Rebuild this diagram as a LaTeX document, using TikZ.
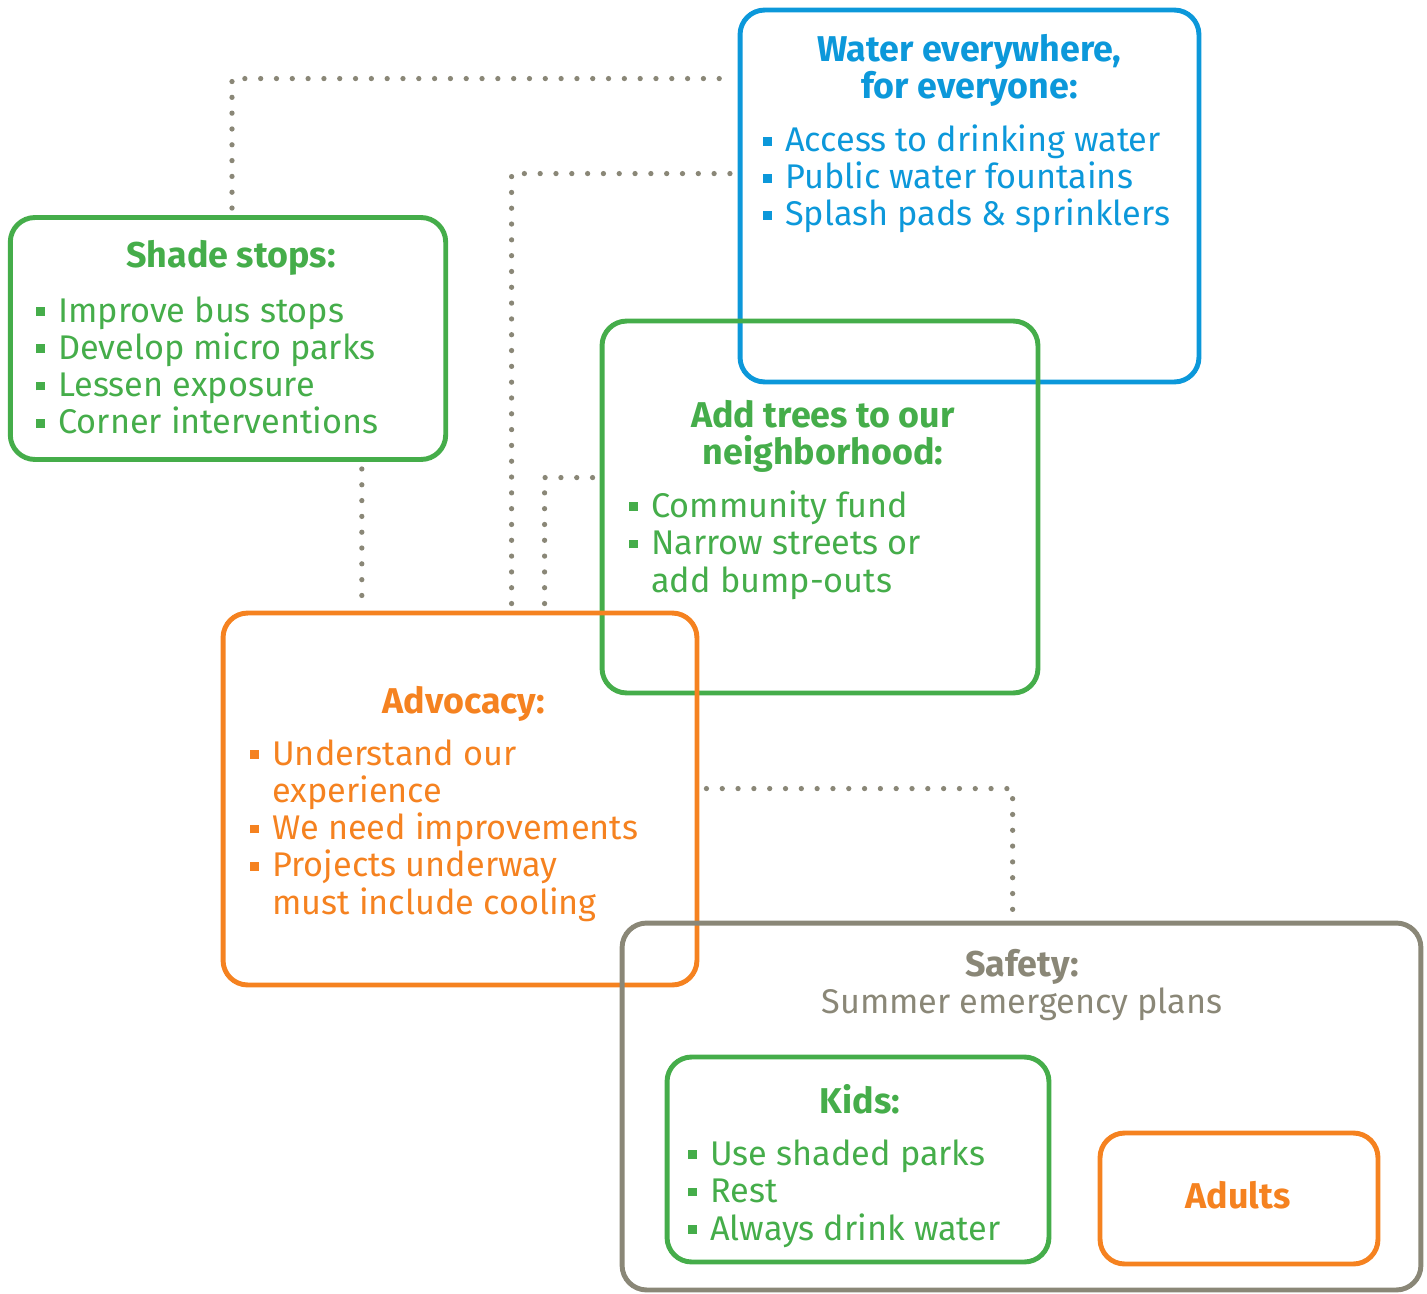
\documentclass[tikz,border=0pt]{standalone}
\usepackage{fontspec}
\setmainfont{Fira Sans}
\usetikzlibrary{calc}

\definecolor{leaf}{HTML}{45AD4A}
\definecolor{sky}{HTML}{0C98DA}
\definecolor{ember}{HTML}{F58220}
\definecolor{stone}{HTML}{8A8777}

\newcommand{\bul}{\makebox[12.5pt][l]{\rule[3.5pt]{5pt}{5pt}}}
\newcommand{\ind}{\hspace*{12.5pt}}

\tikzset{
  panel/.style={draw=#1, line width=2.8pt, rounded corners=14pt, inner sep=0pt},
  head/.style={text=#1, anchor=base, inner sep=0pt, font=\fontsize{20.4}{24}\selectfont\bfseries},
  item/.style={text=#1, anchor=base west, inner sep=0pt, font=\fontsize{19.5}{23}\selectfont},
  link/.style={draw=stone, line width=3pt, line cap=round, dash pattern=on 0pt off 9pt,
    shorten <=4pt, shorten >=4pt}
}

\begin{document}
\begin{tikzpicture}[x=0.02cm, y=-0.02cm]
  \useasboundingbox (0,0) rectangle (1427,1294);

  % frames
  \node[panel=leaf, minimum width=8.71cm, minimum height=4.84cm] (shade) at (228,338.5) {};
  \node[panel=sky, minimum width=9.18cm, minimum height=7.44cm] (water) at (969.5,196) {};
  \node[panel=leaf, minimum width=8.72cm, minimum height=7.44cm] (trees) at (820,507) {};
  \node[panel=ember, minimum width=9.48cm, minimum height=7.44cm] (advocacy) at (460,799) {};
  \node[panel=stone, minimum width=15.98cm, minimum height=7.34cm] (safety) at (1021.5,1106.5) {};
  \node[panel=leaf, minimum width=7.64cm, minimum height=4.1cm] (kids) at (858,1159.5) {};
  \node[panel=ember, minimum width=5.56cm, minimum height=2.62cm] (adults) at (1239,1198.5) {};

  % dotted connectors
  \draw[link] ($(shade.north)+(4,0)$) |- ($(water.north west)+(0,71)$);
  \draw[link] ($(advocacy.north west)+(291,0)$) |- ($(water.north west)+(0,166)$);
  \draw[link] ($(advocacy.north west)+(324,0)$) |- ($(trees.north west)+(0,159)$);
  \draw[link] ($(shade.south west)+(354,0)$) coordinate (s4) -- (s4 |- advocacy.north);
  \draw[link] ($(advocacy.north east)+(0,178)$) -| ($(safety.north west)+(393,0)$);

  % shade stops
  \node[head=leaf] (shade-t) at (231,268) {Shade stops:};
  \foreach \t [count=\i] in {Improve bus stops, Develop micro parks, Lessen exposure, Corner interventions}
    \node[item=leaf] (shade-\i) at (36,{284.7+37.3*\i}) {\bul\t};

  % water
  \node[head=sky] (water-t1) at (969.5,62) {Water everywhere,};
  \node[head=sky] (water-t2) at (969.5,99) {for everyone:};
  \foreach \t [count=\i] in {Access to drinking water, Public water fountains, Splash pads \& sprinklers}
    \node[item=sky] (water-\i) at (763,{115+37*\i}) {\bul\t};

  % trees
  \node[head=leaf] (trees-t1) at (823,427) {Add trees to our};
  \node[head=leaf] (trees-t2) at (823,464) {neighborhood:};
  \foreach \t [count=\i] in {\bul Community fund, \bul Narrow streets or, \ind add bump-outs}
    \node[item=leaf] (trees-\i) at (629,{479.5+37.5*\i}) {\t};

  % advocacy
  \node[head=ember] (advocacy-t) at (464,713) {Advocacy:};
  \foreach \t [count=\i] in {\bul Understand our, \ind experience, \bul We need improvements,
      \bul Projects underway, \ind must include cooling}
    \node[item=ember] (advocacy-\i) at (250,{727.75+37.25*\i}) {\t};

  % safety
  \node[head=stone] (safety-t) at (1022,976) {Safety:};
  \node[item=stone, anchor=base] (safety-s) at (1022,1013) {Summer emergency plans};

  \node[head=leaf] (kids-t) at (860,1113) {Kids:};
  \foreach \t [count=\i] in {Use shaded parks, Rest, Always drink water}
    \node[item=leaf] (kids-\i) at (688,{1127.5+37.5*\i}) {\bul\t};

  \node[head=ember] (adults-t) at (1238,1208) {Adults};
\end{tikzpicture}
\end{document}
